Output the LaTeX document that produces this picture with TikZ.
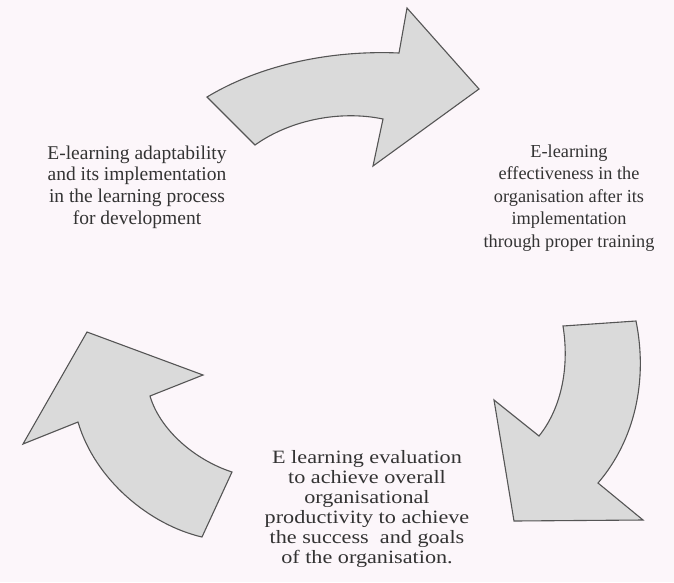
\documentclass[tikz,border=0pt]{standalone}
\usepackage{fontspec}
\setmainfont{Liberation Serif}
\newfontfamily\widefont[FakeStretch=1.18]{Liberation Serif}

\definecolor{paper}{HTML}{FCF6FA}
\definecolor{arrowfill}{HTML}{DADADA}
\definecolor{arrowline}{HTML}{555555}

\begin{document}
\begin{tikzpicture}[x=1pt,y=-1pt,
	arrowshape/.style={fill=arrowfill,draw=arrowline,line width=1.1pt,line join=miter},
	caption/.style={align=center,text=black!80,inner sep=0pt}]

\fill[paper] (0,0) rectangle (674,582);

% top arrow
\draw[arrowshape] (207,97) .. controls (260,65) and (330,50) .. (399,53)
	-- (407,8) -- (479,89) -- (373,166) -- (383,119)
	.. controls (340,110) and (290,120) .. (255,145) -- cycle;
% right arrow
\draw[arrowshape] (563,326) -- (636,321) .. controls (648,380) and (635,440) .. (598,483)
	-- (643,520) -- (514,521) -- (494,400) -- (539,436)
	.. controls (560,410) and (570,370) .. cycle;
% left arrow
\draw[arrowshape] (232,472) -- (202,537) .. controls (150,525) and (95,480) .. (78,422)
	-- (23,444) -- (87,332) -- (203,375) -- (150,396)
	.. controls (160,430) and (195,460) .. cycle;

\node[caption,font=\fontsize{19.5}{21.6}\selectfont] (adapt) at (137,187)
	{E-learning adaptability\\and its implementation\\in the learning process\\for development};
\node[caption,font=\fontsize{18.3}{22.5}\selectfont] (effect) at (569,198)
	{E-learning\\effectiveness in the\\organisation after its\\implementation\\through proper training};
\node[caption,font=\widefont\fontsize{18.8}{20}\selectfont] (evaluate) at (367,509)
	{E learning evaluation\\to achieve overall\\organisational\\productivity to achieve\\the success\ \ and goals\\of the organisation.};

\end{tikzpicture}
\end{document}
